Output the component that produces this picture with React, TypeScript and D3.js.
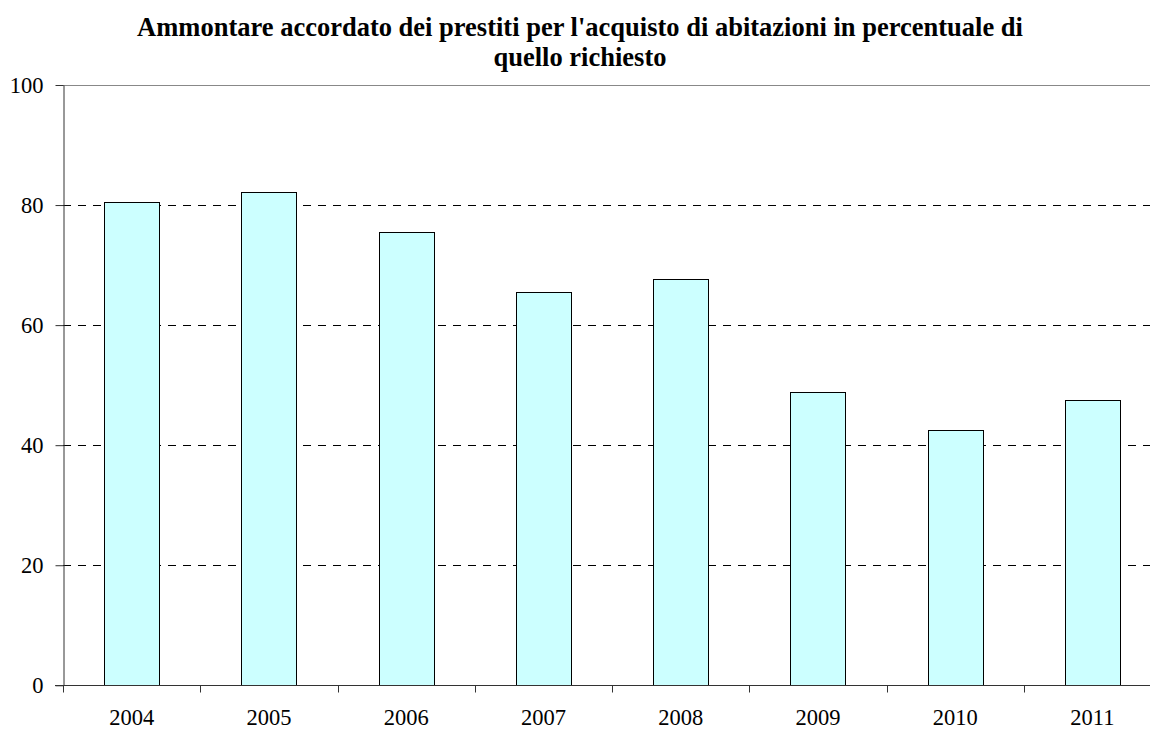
import React, { useRef, useEffect } from "react";
import * as d3 from "d3";

// Data
const years = ["2004", "2005", "2006", "2007", "2008", "2009", "2010", "2011"];
const values = [80.5, 82.2, 75.5, 65.5, 67.7, 48.9, 42.6, 47.5];
const yTicks = [0, 20, 40, 60, 80, 100];
const titleLines = [
  "Ammontare accordato dei prestiti per l'acquisto di abitazioni in percentuale di",
  "quello richiesto",
];

const App = () => {
  const chartRef = useRef<SVGSVGElement | null>(null);

  useEffect(() => {
    const width = 1150;
    const height = 731;
    const margin = { top: 85, left: 63, bottom: 45 };
    const plotRight = 1161;
    const font = "Liberation Serif, Times New Roman, serif";

    const svg = d3
      .select(chartRef.current)
      .attr("width", width)
      .attr("height", height)
      .attr("font-family", font);
    svg.selectAll("*").remove();

    const x = d3
      .scaleBand<string>()
      .domain(years)
      .range([margin.left, plotRight])
      .paddingInner(0.6)
      .paddingOuter(0.3);

    const y = d3
      .scaleLinear()
      .domain([0, 100])
      .range([height - margin.bottom - 0.7, margin.top]);

    // title
    svg
      .append("g")
      .selectAll("text")
      .data(titleLines)
      .join("text")
      .attr("x", 580)
      .attr("y", (_d, i) => 36 + i * 30)
      .attr("text-anchor", "middle")
      .attr("font-family", font)
      .attr("font-weight", "bold")
      .attr("font-size", 26.5)
      .text((d) => d);

    // gridlines
    svg
      .append("g")
      .selectAll("line")
      .data(yTicks.filter((t) => t > 0))
      .join("line")
      .attr("x1", margin.left)
      .attr("x2", width)
      .attr("y1", (d) => Math.round(y(d)) + 0.5)
      .attr("y2", (d) => Math.round(y(d)) + 0.5)
      .attr("stroke", (d) => (d === 100 ? "#888" : "#000"))
      .attr("stroke-width", 1)
      .attr("stroke-dasharray", (d) => (d === 100 ? null : "8,7"));

    // bars
    svg
      .append("g")
      .selectAll("rect")
      .data(values)
      .join("rect")
      .attr("x", (_d, i) => Math.round(x(years[i])!) + 0.5)
      .attr("y", (d) => Math.round(y(d)) + 0.5)
      .attr("width", Math.round(x.bandwidth()))
      .attr("height", (d) => Math.round(y(0)) - Math.round(y(d)))
      .attr("fill", "#ccffff")
      .attr("stroke", "#000")
      .attr("stroke-width", 1);

    // y axis
    const yAxis = svg
      .append("g")
      .attr("transform", `translate(${margin.left + 0.5},0)`)
      .call(d3.axisLeft(y).tickValues(yTicks).tickSize(8).tickPadding(12).tickSizeOuter(0));
    yAxis.select(".domain").attr("stroke", "#333");
    yAxis.selectAll(".tick line").attr("stroke", "#333");
    yAxis
      .attr("font-family", font)
      .attr("font-size", 22.5)
      .selectAll("text")
      .attr("fill", "#000");

    // x axis
    const y0 = Math.round(y(0)) + 0.5;
    const xAxisG = svg.append("g");
    xAxisG
      .append("line")
      .attr("x1", margin.left - 8)
      .attr("x2", width)
      .attr("y1", y0)
      .attr("y2", y0)
      .attr("stroke", "#333");
    const boundaries = d3.range(years.length + 1).map((i) => margin.left + i * x.step());
    xAxisG
      .selectAll(".xtick")
      .data(boundaries)
      .join("line")
      .attr("class", "xtick")
      .attr("x1", (d) => Math.round(d) + 0.5)
      .attr("x2", (d) => Math.round(d) + 0.5)
      .attr("y1", y0)
      .attr("y2", y0 + 7)
      .attr("stroke", "#333");
    xAxisG
      .selectAll(".xlabel")
      .data(years)
      .join("text")
      .attr("class", "xlabel")
      .attr("x", (d) => x(d)! + x.bandwidth() / 2)
      .attr("y", 725)
      .attr("text-anchor", "middle")
      .attr("font-family", font)
      .attr("font-size", 22.5)
      .text((d) => d);
  }, []);

  return (
    <div style={{ position: "absolute", left: 0, top: 0, background: "#fff" }}>
      <svg ref={chartRef} style={{ display: "block" }}></svg>
    </div>
  );
};

export default App;
